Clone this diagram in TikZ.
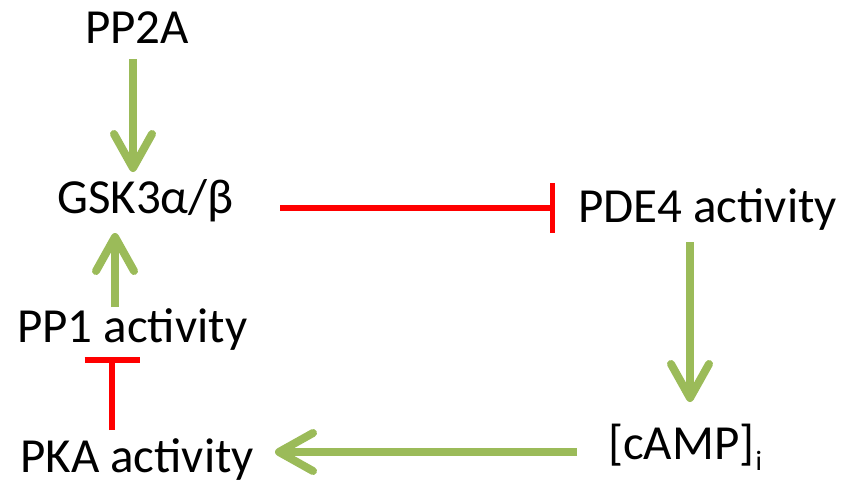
\documentclass[tikz,border=0pt]{standalone}
\usepackage{fontspec}
\setmainfont{Carlito}
\usetikzlibrary{arrows.meta,calc}
\definecolor{ggreen}{HTML}{9BBB59}
\definecolor{rred}{HTML}{FF0000}
\begin{document}
\begin{tikzpicture}[x=1pt,y=-1pt,
  lbl/.style={anchor=base west,inner sep=0pt,font=\fontsize{49}{56}\selectfont},
  act/.style={draw=ggreen,line width=8pt,-{Straight Barb[length=34pt,width=38pt,line cap=round,line join=round]}},
  inh/.style={draw=rred,line width=5.5pt,-{Bar[width=#1,line cap=butt]}}]
\useasboundingbox (0,0) rectangle (855,485);
\node[lbl] (pp2a) at (85,43) {PP2A};
\node[lbl] (gsk) at (57,213) {GSK3α/β};
\node[lbl] (pde) at (578,222) {PDE4 activity};
\node[lbl] (camp) at (608,459) {[cAMP]\kern1pt\raisebox{-11pt}{\fontsize{28}{30}\selectfont i}};
\node[lbl] (pka) at (20,472) {PKA activity};
\node[lbl] (pp1) at (17,342) {PP1 activity};
\draw[act] ($(pp2a.base west)+(48,16)$) -- ($(gsk.base west)+(76,-41)$);
\draw[act] ($(pp1.base west)+(98,-35)$) -- ($(gsk.base west)+(58,20)$);
\draw[act] ($(pde.base west)+(112,20)$) -- ($(camp.base west)+(82,-57)$);
\draw[act] ($(camp.base west)+(-31,-7)$) -- ($(pka.base west)+(255,-20)$);
\draw[inh=50pt] ($(gsk.base west)+(223,-5)$) -- ($(pde.base west)+(-23,-14)$);
\draw[inh=55pt] ($(pka.base west)+(92,-42)$) -- ($(pp1.base west)+(95,15)$);
\end{tikzpicture}
\end{document}
